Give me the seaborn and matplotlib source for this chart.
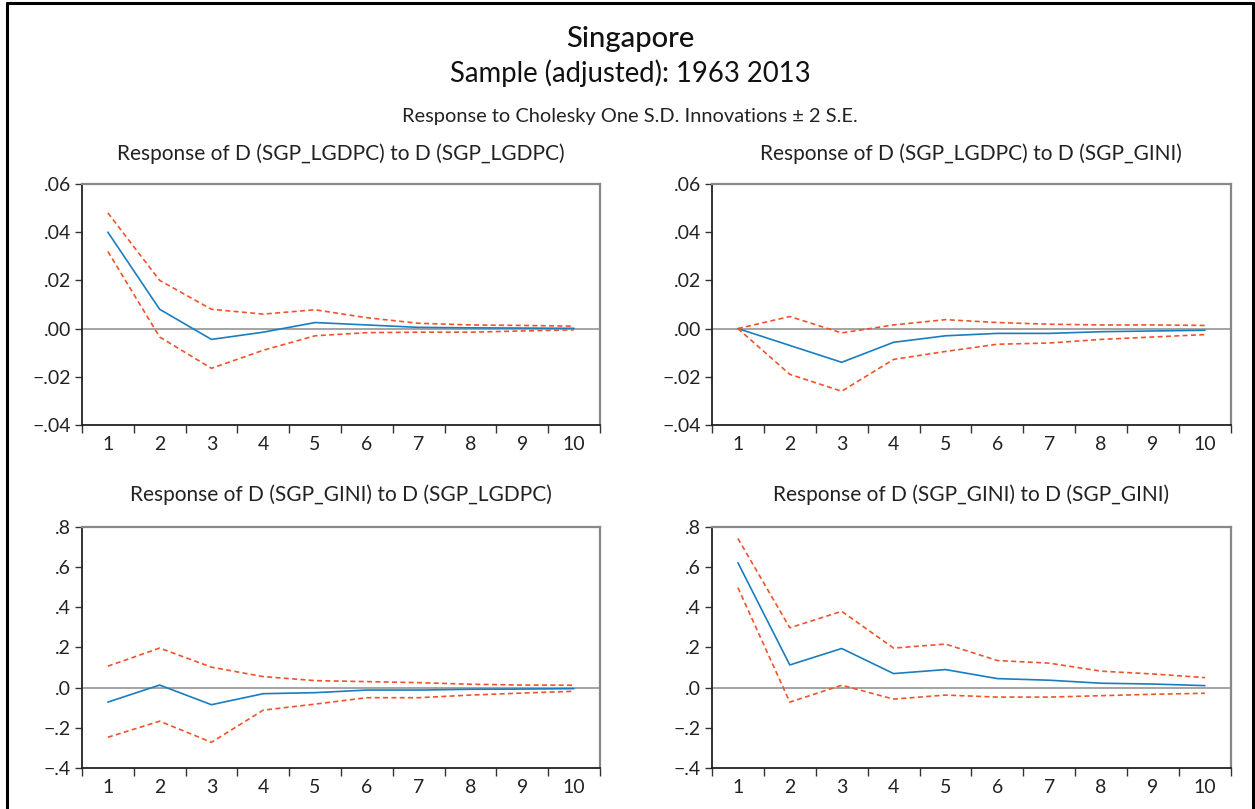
"""Impulse responses, Singapore VAR (EViews style)"""
import matplotlib
matplotlib.use("Agg")
import matplotlib.pyplot as plt
from matplotlib.lines import Line2D
from matplotlib.ticker import FixedLocator, FuncFormatter, NullFormatter
import numpy as np
import pandas as pd
import seaborn as sns

periods = list(range(1, 11))

# Response of D(SGP_LGDPC) to D(SGP_LGDPC)
gdp_gdp = [0.040, 0.008, -0.0045, -0.0015, 0.0025, 0.0015, 0.0005, 0.0003, 0.0002, 0.0001]
gdp_gdp_hi = [0.048, 0.020, 0.008, 0.006, 0.0078, 0.0045, 0.0022, 0.0015, 0.0013, 0.0010]
gdp_gdp_lo = [0.032, -0.0035, -0.0165, -0.009, -0.003, -0.0017, -0.0015, -0.0015, -0.0010, -0.0005]

# Response of D(SGP_LGDPC) to D(SGP_GINI)
gdp_gini = [0.0, -0.007, -0.014, -0.0057, -0.003, -0.002, -0.002, -0.0013, -0.0010, -0.0007]
gdp_gini_hi = [0.0, 0.005, -0.0018, 0.0015, 0.0037, 0.0025, 0.0018, 0.0015, 0.0015, 0.0013]
gdp_gini_lo = [0.0, -0.019, -0.026, -0.0128, -0.0095, -0.0065, -0.006, -0.0045, -0.0035, -0.0025]

# Response of D(SGP_GINI) to D(SGP_LGDPC)
gini_gdp = [-0.072, 0.013, -0.085, -0.030, -0.025, -0.012, -0.012, -0.008, -0.007, -0.005]
gini_gdp_hi = [0.107, 0.197, 0.102, 0.055, 0.035, 0.030, 0.025, 0.017, 0.013, 0.012]
gini_gdp_lo = [-0.247, -0.167, -0.272, -0.112, -0.082, -0.050, -0.050, -0.037, -0.027, -0.018]

# Response of D(SGP_GINI) to D(SGP_GINI)
gini_gini = [0.622, 0.113, 0.195, 0.070, 0.090, 0.045, 0.037, 0.022, 0.018, 0.010]
gini_gini_hi = [0.743, 0.298, 0.380, 0.197, 0.217, 0.135, 0.122, 0.082, 0.068, 0.050]
gini_gini_lo = [0.498, -0.072, 0.012, -0.057, -0.037, -0.047, -0.047, -0.040, -0.033, -0.028]

panels = [
    ("Response of D (SGP_LGDPC) to D (SGP_LGDPC)", gdp_gdp, gdp_gdp_hi, gdp_gdp_lo,
     [-0.04, -0.02, 0.0, 0.02, 0.04, 0.06]),
    ("Response of D (SGP_LGDPC) to D (SGP_GINI)", gdp_gini, gdp_gini_hi, gdp_gini_lo,
     [-0.04, -0.02, 0.0, 0.02, 0.04, 0.06]),
    ("Response of D (SGP_GINI) to D (SGP_LGDPC)", gini_gdp, gini_gdp_hi, gini_gdp_lo,
     [-0.4, -0.2, 0.0, 0.2, 0.4, 0.6, 0.8]),
    ("Response of D (SGP_GINI) to D (SGP_GINI)", gini_gini, gini_gini_hi, gini_gini_lo,
     [-0.4, -0.2, 0.0, 0.2, 0.4, 0.6, 0.8]),
]

sns.set_style("white")
plt.rcParams["font.family"] = ["Lato", "DejaVu Sans"]

BLUE = "#1a7dbf"
RED = "#f0532b"

fig = plt.figure(figsize=(12.55, 8.09), dpi=100)

# axes boxes (left, bottom, width, height)
boxes = [
    (0.0653, 0.4747, 0.4127, 0.2979),
    (0.5673, 0.4747, 0.4135, 0.2979),
    (0.0653, 0.0507, 0.4127, 0.2979),
    (0.5673, 0.0507, 0.4135, 0.2979),
]


def fmt_tick(v, pos, dec):
    s = f"{abs(v):.{dec}f}".lstrip("0")
    return ("\u2212" if v < -1e-12 else "") + s


for i, ((title, mid, hi, lo, yticks), box) in enumerate(zip(panels, boxes)):
    ax = fig.add_axes(box)
    df = pd.DataFrame({
        "period": periods * 3,
        "value": mid + hi + lo,
        "band": ["mid"] * 10 + ["hi"] * 10 + ["lo"] * 10,
    })
    ax.axhline(0, color="#8c8c8c", lw=1.1, zorder=1)
    sns.lineplot(data=df, x="period", y="value", hue="band", style="band",
                 palette={"mid": BLUE, "hi": RED, "lo": RED},
                 dashes={"mid": "", "hi": (3, 2), "lo": (3, 2)},
                 linewidth=1.2, legend=False, ax=ax, zorder=3)

    ax.set_xlim(0.5, 10.5)
    ax.set_ylim(yticks[0], yticks[-1])
    ax.set_xlabel("")
    ax.set_ylabel("")

    # tick marks at period boundaries, labels at period centres
    ax.xaxis.set_major_locator(FixedLocator(np.arange(0.5, 11, 1)))
    ax.xaxis.set_major_formatter(NullFormatter())
    ax.xaxis.set_minor_locator(FixedLocator(periods))
    ax.xaxis.set_minor_formatter(FuncFormatter(lambda v, p: f"{int(round(v))}"))
    ax.tick_params(axis="x", which="major", direction="out", length=6, width=1, color="#333333",
                   bottom=True)
    ax.tick_params(axis="x", which="minor", length=0, pad=8, labelsize=14, colors="#222222")

    dec = 2 if yticks[-1] < 0.1 else 1
    ax.set_yticks(yticks)
    ax.yaxis.set_major_formatter(FuncFormatter(lambda v, p, d=dec: fmt_tick(v, p, d)))
    ax.tick_params(axis="y", direction="out", length=5, width=1, color="#333333",
                   left=True, labelsize=14, labelcolor="#222222", pad=3)

    for side in ("top", "right"):
        ax.spines[side].set_color("#888888")
        ax.spines[side].set_linewidth(1.6)
    for side in ("left", "bottom"):
        ax.spines[side].set_color("#222222")
        ax.spines[side].set_linewidth(1.3)

    ax.set_title(title, fontsize=15, color="#222222", pad=17 if i < 2 else 19)

fig.text(0.502, 0.952, "Singapore", ha="center", va="center", fontsize=21,
         fontweight="medium", color="#111111")
fig.text(0.502, 0.910, "Sample (adjusted): 1963 2013", ha="center", va="center",
         fontsize=19.8, color="#111111")
fig.text(0.502, 0.856, "Response to Cholesky One S.D. Innovations \u00b1 2 S.E.",
         ha="center", va="center", fontsize=14.4, color="#222222")

# outer frame (left, top, right edges)
for xs, ys in [([0.0056, 0.0056], [0.0, 0.9963]),
               ([0.0056, 0.9984], [0.9963, 0.9963]),
               ([0.9984, 0.9984], [0.0, 0.9963])]:
    fig.add_artist(Line2D(xs, ys, transform=fig.transFigure, color="black", lw=2.2))

fig.savefig("out.png", dpi=100)
plt.close(fig)
